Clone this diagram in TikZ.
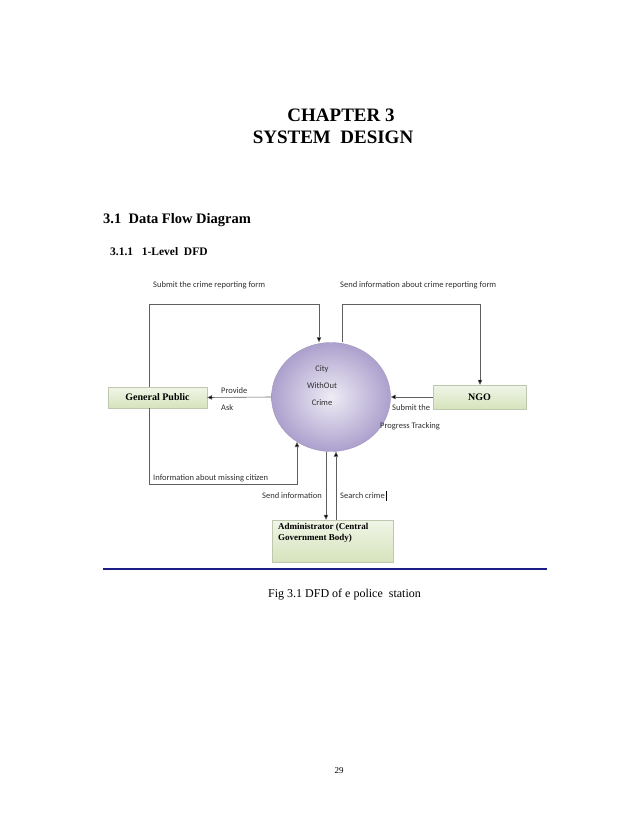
\documentclass[tikz,border=0pt]{standalone}
\usepackage{fontspec}
\setmainfont{Liberation Serif}
\newfontfamily\flowfont{Carlito}
\usetikzlibrary{arrows.meta, positioning, shapes.geometric}
\definecolor{dfdgreen}{RGB}{214,227,188}
\definecolor{dfdedge}{RGB}{190,200,175}
\definecolor{dfdpurple}{RGB}{172,160,205}
\definecolor{dfdline}{RGB}{95,95,95}
\definecolor{ruleblue}{RGB}{28,28,135}

\begin{document}
\begin{tikzpicture}[x=1pt, y=-1pt,
      entity/.style={rectangle, draw=dfdedge, top color=dfdgreen!35, bottom color=dfdgreen,
                     inner sep=2pt, font=\bfseries\fontsize{10}{12}\selectfont},
      process/.style={ellipse, draw=dfdpurple!80!gray, inner color=dfdpurple!20,
                      outer color=dfdpurple, minimum width=119pt, minimum height=109pt},
      flow/.style={draw=dfdline, line width=0.6pt,
                   -{Triangle[length=5pt, width=4.5pt, fill=black]}},
      flowlabel/.style={anchor=west, inner sep=0pt, text=dfdline!50!black,
                        font=\flowfont\fontsize{8.5}{10}\selectfont}
    ]
    \useasboundingbox (0,0) rectangle (638,826);

    % page headings
    \node[font=\bfseries\fontsize{19}{22}\selectfont] (chap) at (341,115) {CHAPTER 3};
    \node[font=\bfseries\fontsize{19}{22}\selectfont] (chaptitle) at (333,137) {SYSTEM\ \ DESIGN};
    \node[anchor=west, inner sep=0pt, font=\bfseries\fontsize{14.5}{17}\selectfont]
      (sec) at (103,220) {3.1\ \ Data Flow Diagram};
    \node[anchor=west, inner sep=0pt, font=\bfseries\fontsize{11.5}{14}\selectfont]
      (subsec) at (110,252) {3.1.1\ \ \ 1-Level\ \ DFD};

    % processes and entities
    \node[process] (city) at (331,397) {};
    \node[font=\flowfont\fontsize{8.5}{17}\selectfont, align=center, text=dfdline!50!black]
      (citytext) at (322,386) {City\\WithOut\\Crime};
    \node[entity, minimum width=99pt, minimum height=21pt] (public) at (157.5,397.5) {General Public};
    \node[entity, minimum width=93pt, minimum height=24pt] (ngo) at (479.5,397) {NGO};
    \node[entity, minimum width=121pt, minimum height=42pt] (admin) at (332.5,541) {};
    \node[anchor=north west, align=left, inner sep=0pt, font=\bfseries\fontsize{9}{11}\selectfont]
      (admintext) at (278,523) {Administrator (Central\\Government Body)};

    % bends of the flows
    \coordinate (pubtop) at (149,304);
    \coordinate (citytopin) at (319,304);
    \coordinate (citytopout) at (342,304);
    \coordinate (ngotop) at (480,304);
    \coordinate (pubbot) at (149,484);
    \coordinate (citybot) at (297,484);
    \coordinate (sendx) at (326,0);
    \coordinate (searchx) at (336,0);

    % flows
    \draw[flow] (public.north -| pubtop) |- (citytopin) -- (city.north -| citytopin);
    \draw[flow] (city.north -| citytopout) -- (citytopout) -| (ngo.north -| ngotop);
    \draw[flow] (city.west) -- (public.east);
    \draw[flow] (ngo.west) -- (city.east);
    \draw[flow] (public.south -| pubbot) |- (citybot) -- (citybot |- city.233);
    \draw[flow] (city.south -| sendx) -- (admin.north -| sendx);
    \draw[flow] (admin.north -| searchx) -- (city.south -| searchx);

    % flow labels
    \node[flowlabel] (lsubmit) at (153,285) {Submit the crime reporting form};
    \node[flowlabel] (lsendngo) at (340,285) {Send information about crime reporting form};
    \node[flowlabel] (lprovide) at (221,391) {Provide};
    \node[flowlabel] (lask) at (221,408) {Ask};
    \node[flowlabel] (lsubmitthe) at (392,408) {Submit the};
    \node[flowlabel] (lprogress) at (380,426) {Progress Tracking};
    \node[flowlabel] (lmissing) at (153,478) {Information about missing citizen};
    \node[flowlabel] (lsendinfo) at (262,496) {Send information};
    \node[flowlabel] (lsearch) at (340,496) {Search crime};
    \draw[line width=1.1pt] (lsearch.east) ++(1.5,-5) -- ++(0,10);

    % rule and caption
    \draw[ruleblue, line width=1.3pt] (103,569) -- (547,569);
    \node[anchor=west, inner sep=0pt, font=\fontsize{12}{14}\selectfont]
      (caption) at (268,595) {Fig 3.1 DFD of e police\ \ station};
    \node[font=\fontsize{9}{11}\selectfont] (pagenum) at (339,771) {29};
  \end{tikzpicture}
\end{document}
